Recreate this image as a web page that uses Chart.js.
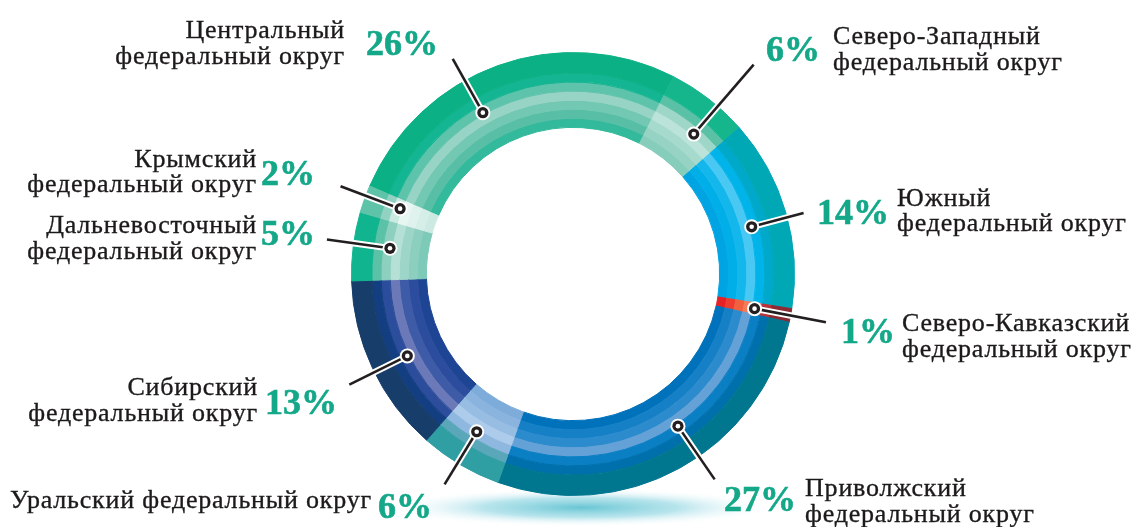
<!DOCTYPE html>
<html lang="ru">
<head>
<meta charset="utf-8">
<title>Федеральные округа</title>
<script src="https://cdn.jsdelivr.net/npm/chart.js@4/dist/chart.umd.min.js"></script>
<style>
  html, body { margin: 0; padding: 0; background: #fff; }
  #wrap { width: 1136px; height: 527px; overflow: hidden; }
</style>
</head>
<body>
<div id="wrap"><canvas id="ring" width="1136" height="527"></canvas></div>
<script>
// Shares by federal district, clockwise from the Central district
var districts = ['Центральный', 'Северо-Западный', 'Южный', 'Северо-Кавказский', 'Приволжский',
	'Уральский', 'Сибирский', 'Дальневосточный', 'Крымский'];
var shares = [26, 6, 14, 1, 27, 6, 13, 5, 2];

// Label text lines per district
var nameLines = [
	['Центральный', 'федеральный округ'],
	['Северо-Западный', 'федеральный округ'],
	['Южный', 'федеральный округ'],
	['Северо-Кавказский', 'федеральный округ'],
	['Приволжский', 'федеральный округ'],
	['Уральский федеральный округ'],
	['Сибирский', 'федеральный округ'],
	['Дальневосточный', 'федеральный округ'],
	['Крымский', 'федеральный округ']
];

// Band colours, outer band first
var bandColors = [
	['#0bb185', '#14b592', '#5ec3ab', '#98d4c5', '#72c8b3', '#58bfa6', '#33b99b'],
	['#16b68d', '#5ac1a6', '#9ed6c8', '#bbe3d9', '#a6dacd', '#97d3c4', '#87cdbb'],
	['#00a7b5', '#00a8c9', '#00b4ea', '#48c8f2', '#14b7ec', '#00aee8', '#00a4e2'],
	['#8b2a32', '#b73338', '#e44a3f', '#f47a5a', '#f2613f', '#ee3c30', '#e62027'],
	['#00768f', '#0070ad', '#0a7fc3', '#63a1d7', '#2c8bcc', '#1580c6', '#0071bb'],
	['#2f9fa4', '#5aa7b9', '#8fb8e0', '#adcbea', '#98bde3', '#8ab4de', '#7eacda'],
	['#173e6b', '#133f82', '#2b4d9b', '#6c79b9', '#3d5ba6', '#2c4d9d', '#1d4593'],
	['#10b58f', '#5bc2a7', '#8dd0bf', '#b5e0d6', '#9dd6c8', '#8ccfbf', '#7ccab7'],
	['#5ec3a9', '#92d2c2', '#c9e9e1', '#e8f6f2', '#dff2ed', '#d6eee8', '#cdeae2']
];
var bandWeights = [2.25, 1, 1, 1, 1, 1, 1];

// Callout layout: dot angle nudge (deg), leader length past the ring,
// percent anchor and first name baseline, relative to the ring centre
var dotShift = [-9.4, 3, 1.4, 0, -5.8, 0.8, -1.1, 0.8, 0.9];
var leaderLen = [25, 55, 17, 36, 28, 25, 28, 27, 27];
var side = ['left', 'right', 'right', 'right', 'right', 'left', 'left', 'left', 'left'];
var pctPos = [[-135, -219], [193, -213.5], [244, -50.5], [268, 69], [151, 237],
	[-141, 244], [-236, 140], [-258, -29], [-258, -89]];
var namePos = [[-228, -235.7], [260, -229.6], [324, -68.3], [329, 57], [232, 222],
	[-201, 234], [-315, 121], [-316, -41], [-316, -107.3]];

var pctFont = 'bold 36px "Liberation Serif", serif';
var nameFont = '26px "Liberation Serif", serif';
var lineHeight = 25.5;

var datasets = bandWeights.map(function (w, b) {
	return {
		data: shares,
		weight: w,
		backgroundColor: bandColors.map(function (c) { return c[b]; }),
		borderColor: bandColors.map(function (c) { return c[b]; }),
		borderWidth: 1
	};
});

// Soft shadow under the ring and the leader lines with labels
var calloutPlugin = {
	id: 'callouts',
	beforeDatasetsDraw: function (chart) {
		var ctx = chart.ctx;
		var arc = chart.getDatasetMeta(0).data[0];
		var cx = arc.x, cy = arc.y, R = arc.outerRadius;
		ctx.save();
		ctx.translate(cx + 8, cy + R + 12);
		ctx.scale(1, 0.1);
		var g = ctx.createRadialGradient(0, 0, 0, 0, 0, 195);
		g.addColorStop(0, 'rgba(105,198,212,1)');
		g.addColorStop(0.5, 'rgba(145,214,226,0.65)');
		g.addColorStop(1, 'rgba(255,255,255,0)');
		ctx.fillStyle = g;
		ctx.beginPath();
		ctx.arc(0, 0, 195, 0, Math.PI * 2);
		ctx.fill();
		ctx.restore();
	},
	afterDatasetsDraw: function (chart) {
		var ctx = chart.ctx;
		var outer = chart.getDatasetMeta(0).data;
		var inner = chart.getDatasetMeta(bandWeights.length - 1).data;
		outer.forEach(function (arc, i) {
			var cx = arc.x, cy = arc.y;
			var rOut = arc.outerRadius, rIn = inner[i].innerRadius;
			var a = (arc.startAngle + arc.endAngle) / 2 + dotShift[i] * Math.PI / 180;
			var rDot = rIn + (rOut - rIn) * 0.51;
			var rTip = rOut + leaderLen[i];
			var dx = Math.cos(a), dy = Math.sin(a);
			var x0 = cx + dx * rDot, y0 = cy + dy * rDot;
			var x1 = cx + dx * rTip, y1 = cy + dy * rTip;

			ctx.save();
			ctx.lineCap = 'butt';
			ctx.strokeStyle = '#ffffff';
			ctx.lineWidth = 6.5;
			ctx.beginPath(); ctx.moveTo(x0, y0); ctx.lineTo(x1, y1); ctx.stroke();
			ctx.strokeStyle = '#231f20';
			ctx.lineWidth = 2.6;
			ctx.beginPath(); ctx.moveTo(x0, y0); ctx.lineTo(x1, y1); ctx.stroke();

			ctx.fillStyle = '#ffffff';
			ctx.beginPath(); ctx.arc(x0, y0, 7.5, 0, Math.PI * 2); ctx.fill();
			ctx.fillStyle = '#231f20';
			ctx.beginPath(); ctx.arc(x0, y0, 5.6, 0, Math.PI * 2); ctx.fill();
			ctx.fillStyle = '#ffffff';
			ctx.beginPath(); ctx.arc(x0, y0, 2.3, 0, Math.PI * 2); ctx.fill();

			// percentage and district name
			var align = side[i] === 'left' ? 'right' : 'left';
			ctx.textAlign = align;
			ctx.textBaseline = 'alphabetic';
			ctx.font = pctFont;
			ctx.fillStyle = '#14a889';
			ctx.strokeStyle = '#14a889';
			ctx.lineWidth = 0.6;
			var px = cx + pctPos[i][0], py = cy + pctPos[i][1];
			ctx.fillText(shares[i] + '%', px, py);
			ctx.strokeText(shares[i] + '%', px, py);

			ctx.font = nameFont;
			ctx.fillStyle = '#1c1a1b';
			ctx.strokeStyle = '#1c1a1b';
			ctx.lineWidth = 0.35;
			if ('letterSpacing' in ctx) ctx.letterSpacing = '0.8px';
			nameLines[i].forEach(function (line, k) {
				var nx = cx + namePos[i][0], ny = cy + namePos[i][1] + k * lineHeight;
				ctx.fillText(line, nx, ny);
				ctx.strokeText(line, nx, ny);
			});
			ctx.restore();
		});
	}
};

var chart = new Chart(document.getElementById('ring'), {
	type: 'doughnut',
	data: {
		labels: districts,
		datasets: datasets
	},
	options: {
		responsive: false,
		animation: false,
		events: [],
		cutout: '66.2%',
		rotation: -66.6,
		layout: {
			padding: {left: 351, right: 341, top: 52, bottom: 31}
		},
		plugins: {
			legend: {display: false},
			tooltip: {enabled: false}
		}
	},
	plugins: [calloutPlugin]
});
</script>
</body>
</html>
